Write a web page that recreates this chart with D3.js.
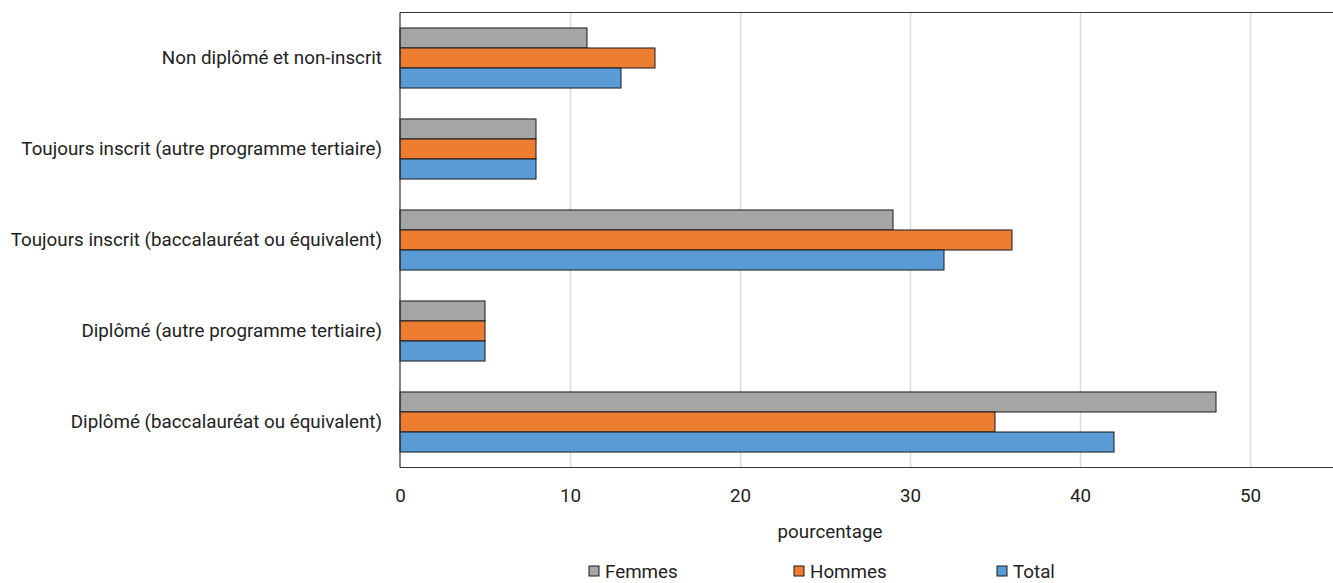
<!DOCTYPE html>
<html><head><meta charset="utf-8">
<script src="https://cdn.jsdelivr.net/npm/d3@7"></script>
<style>
html,body{margin:0;padding:0;background:#fff;}
text{font-family:Roboto,sans-serif;fill:#222;}
</style></head>
<body>
<svg id="chart" width="1333" height="583"></svg>
<script>
const categories = [
  "Non diplômé et non-inscrit",
  "Toujours inscrit (autre programme tertiaire)",
  "Toujours inscrit (baccalauréat ou équivalent)",
  "Diplômé (autre programme tertiaire)",
  "Diplômé (baccalauréat ou équivalent)"
];
const seriesNames = ["Femmes", "Hommes", "Total"];
const femmes = [11, 8, 29, 5, 48];
const hommes = [15, 8, 36, 5, 35];
const total  = [13, 8, 32, 5, 42];
const xTicks = [0, 10, 20, 30, 40, 50];
const xLabel = "pourcentage";
const colors = ["#a5a5a5", "#ed7d31", "#5b9bd5"];

const seriesValues = [femmes, hommes, total];
const svg = d3.select("#chart");
const mLeft = 400, mRight = 1335, mTop = 12.5, mBottom = 467.5;
const FS = "18.8px";

const x = d3.scaleLinear().domain([0, 55]).range([mLeft, mRight]);
const y = d3.scaleBand().domain(categories).range([mTop, mBottom]).paddingInner(0.34).paddingOuter(0.17);
const ys = d3.scaleBand().domain(seriesNames).range([0, y.bandwidth()]);

// gridlines
svg.append("g").selectAll("line").data(xTicks.filter(d => d > 0)).join("line")
  .attr("x1", d => Math.round(x(d)) + 0.5).attr("x2", d => Math.round(x(d)) + 0.5)
  .attr("y1", mTop).attr("y2", mBottom)
  .attr("stroke", "#dcdcdc").attr("stroke-width", 1.5);

// bars
const rows = categories.map((c, i) => seriesNames.map((s, j) => ({cat: c, s, v: seriesValues[j][i], j}))).flat();
svg.append("g").selectAll("rect").data(rows).join("rect")
  .attr("x", x(0))
  .attr("y", d => y(d.cat) + ys(d.s))
  .attr("width", d => x(d.v) - x(0))
  .attr("height", ys.bandwidth())
  .attr("fill", d => colors[d.j])
  .attr("stroke", "#1a1a1a").attr("stroke-width", 1);

// frame
svg.append("line").attr("x1", mLeft).attr("x2", 1333).attr("y1", mTop).attr("y2", mTop).attr("stroke", "#333").attr("stroke-width", 1.2);
svg.append("line").attr("x1", mLeft).attr("x2", 1333).attr("y1", mBottom).attr("y2", mBottom).attr("stroke", "#333").attr("stroke-width", 1.2);
svg.append("line").attr("x1", mLeft).attr("x2", mLeft).attr("y1", mTop).attr("y2", mBottom).attr("stroke", "#333").attr("stroke-width", 1.2);

// x axis labels
const xAxis = d3.axisBottom(x).tickValues(xTicks).tickSize(0).tickPadding(21);
const gx = svg.append("g").attr("transform", `translate(0,${mBottom})`).call(xAxis);
gx.select(".domain").remove();
gx.selectAll("text").style("font-size", FS).attr("fill", "#222").style("font-family", "Roboto,sans-serif");

// y axis labels
const yAxis = d3.axisLeft(y).tickSize(0).tickPadding(18);
const gy = svg.append("g").attr("transform", `translate(${mLeft},0)`).call(yAxis);
gy.select(".domain").remove();
gy.selectAll("text").style("font-size", FS).attr("fill", "#222").style("font-family", "Roboto,sans-serif");

svg.append("text").attr("x", 830).attr("y", 538).attr("text-anchor", "middle")
  .style("font-size", FS).text(xLabel);

// legend
const legendX = [589, 794, 997];
const lg = svg.append("g").selectAll("g").data(seriesNames).join("g")
  .attr("transform", (d, i) => `translate(${legendX[i]},566)`);
lg.append("rect").attr("width", 10).attr("height", 10)
  .attr("fill", (d, i) => colors[i]).attr("stroke", "#1a1a1a").attr("stroke-width", 1);
lg.append("text").attr("x", 16).attr("y", 12).style("font-size", FS).text(d => d);
</script>
</body></html>
